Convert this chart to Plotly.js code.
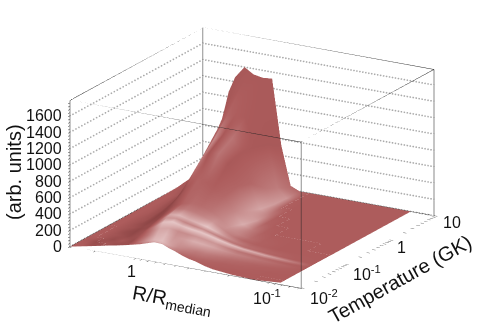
<!DOCTYPE html>
<html>
<head>
<meta charset="utf-8">
<script src="https://cdn.plot.ly/plotly-3.0.1.min.js"></script>
<style>html,body{margin:0;padding:0;background:#fff}#plot{width:477px;height:324px}</style>
</head>
<body>
<div id="plot"></div>
<script>
// x is R/Rmedian (runs backwards), y is temperature in GK
const rValues = [3.09,2.74,2.44,2.08,1.77,1.51,1.29,1.10,0.939,0.801,0.683,0.583,0.497,0.424,0.348,0.285,0.192,0.129,0.0866];
const tRows = [0.01,0.0141,0.02,0.0282,0.04,0.0473,0.0562,0.0668,0.0794,0.112,0.158,0.316,0.631,1.26,2.51,5.01,7.08,10];
// lowest temperature with any counts, per R column
const tEdge = [0.01,0.0115,0.0132,0.016,0.0193,0.023,0.028,0.035,0.033,0.028,0.0245,0.021,0.0185,0.0168,0.0141,0.0123,0.0107,0.01,0.0115];
const counts = [
 [0,0,0,0,0,4,10,25,30,25,20,15,8,6,3,2,0,0,0],
 [0,0,0,0,0,5,12,28,32,28,22,18,12,10,6,4,2,0,0],
 [0,0,0,0,3,10,18,35,40,35,30,28,22,18,12,8,4,1,0],
 [0,0,0,2,8,20,35,55,70,60,55,50,42,34,24,16,8,3,0],
 [0,0,1,5,18,40,70,100,125,115,105,98,85,70,50,34,16,6,0],
 [0,0,1,6,24,52,100,155,180,160,145,135,115,92,66,46,22,8,0],
 [0,0,2,8,30,65,130,210,235,205,185,170,145,115,82,58,28,10,0],
 [0,0,2,10,38,80,155,240,255,225,200,180,148,112,76,50,24,8,0],
 [0,0,3,12,45,95,175,260,270,240,215,190,150,110,70,44,20,6,0],
 [0,1,3,15,55,120,210,285,300,285,250,205,135,75,40,20,8,2,0],
 [0,1,4,20,70,155,260,300,330,320,280,210,120,50,18,6,1,0,0],
 [0,2,8,30,105,260,400,480,500,470,370,200,60,14,3,0,0,0,0],
 [1,5,15,60,200,430,640,760,760,650,400,120,15,2,0,0,0,0,0],
 [3,10,30,110,340,620,800,880,860,700,340,50,3,0,0,0,0,0,0],
 [8,25,70,220,520,830,1000,1050,1020,680,200,15,0,0,0,0,0,0,0],
 [30,70,160,420,800,1120,1260,1290,1220,620,110,5,0,0,0,0,0,0,0],
 [60,120,260,620,1120,1320,1350,1330,1290,560,70,3,0,0,0,0,0,0,0],
 [90,180,340,660,1260,1400,1330,1310,1320,520,50,0,0,0,0,0,0,0,0]
];
// light and dark patches of the surface, 0 dark to 1 pale
const shade = [
 [.35,.35,.3,.2,.3,.2,.4,.6,.65,.55,.42,.4,.38,.38,.36,.35,.35,.35,.35],
 [.35,.35,.25,.2,.3,.2,.4,.7,.75,.6,.45,.4,.38,.38,.36,.36,.35,.35,.35],
 [.35,.3,.2,.3,.2,.25,.5,.85,.9,.7,.55,.45,.42,.42,.4,.38,.37,.35,.35],
 [.35,.35,.3,.2,.3,.2,.55,.9,.95,.8,.65,.6,.55,.55,.5,.45,.4,.37,.35],
 [.35,.35,.3,.25,.18,.25,.5,.85,.9,.7,.75,.85,.85,.8,.7,.6,.5,.42,.35],
 [.35,.35,.3,.22,.16,.25,.5,.8,.8,.65,.65,.7,.7,.7,.6,.5,.45,.38,.35],
 [.35,.35,.3,.2,.15,.25,.55,.95,1,.95,1,1,1,1,.95,.9,.8,.6,.36],
 [.35,.35,.3,.22,.16,.2,.45,.7,.7,.6,.6,.65,.6,.55,.5,.45,.4,.36,.35],
 [.35,.35,.3,.25,.18,.2,.4,.8,.9,.85,.9,1,.9,.7,.55,.45,.4,.36,.35],
 [.35,.35,.3,.22,.14,.16,.3,.5,.55,.55,.6,.7,.65,.55,.42,.38,.35,.35,.35],
 [.35,.35,.3,.25,.12,.15,.25,.4,.45,.45,.5,.6,.7,.6,.45,.38,.35,.35,.35],
 [.35,.35,.32,.22,.1,.15,.3,.4,.38,.36,.42,.6,.85,.55,.38,.35,.35,.35,.35],
 [.35,.35,.3,.2,.15,.2,.55,.3,.5,.32,.4,.7,.75,.4,.35,.35,.35,.35,.35],
 [.35,.35,.3,.2,.2,.25,.65,.32,.5,.33,.42,.8,.55,.35,.35,.35,.35,.35,.35],
 [.35,.3,.25,.25,.3,.35,.4,.36,.34,.32,.5,.75,.38,.35,.35,.35,.35,.35,.35],
 [.3,.3,.3,.3,.3,.32,.34,.34,.33,.32,.55,.7,.36,.35,.35,.35,.35,.35,.35],
 [.3,.3,.3,.3,.3,.32,.33,.33,.33,.32,.5,.55,.36,.35,.35,.35,.35,.35,.35],
 [.3,.3,.3,.3,.3,.32,.33,.33,.33,.32,.45,.42,.36,.35,.35,.35,.35,.35,.35]
];
const zTicks = [0,200,400,600,800,1000,1200,1400,1600];
const zMinor = [0,40,80,120,160,200,240,280,320,360,400,440,480,520,560,600,640,680,720,760,800,840,880,920,960,1000,1040,1080,1120,1160,1200,1240,1280,1320,1360,1400,1440,1480,1520,1560,1600,1640,1680,1720,1760];
const rMinor = [3,2,1,0.9,0.8,0.7,0.6,0.5,0.4,0.3,0.2,0.1,0.09,0.08,0.07,0.06];
const tMinor = [0.01,0.02,0.03,0.04,0.05,0.06,0.07,0.08,0.09,0.1,0.2,0.3,0.4,0.5,0.6,0.7,0.8,0.9,1,2,3,4,5,6,7,8,9,10];
const rLabels = [[1,'1',-4,-13],[0.1,'10<sup>-1</sup>',-3,-14]];
const tLabels = [[0.01,'10<sup>-2</sup>',23,-9],[0.1,'10<sup>-1</sup>',22,-9],[1,'1',12,-8],[10,'10',18,-7]];
const rRange = [3.09,0.0582];
const tRange = [0.01,10];
const zTop = 1790;

function lg(v){
    return Math.log10(v);
}

// dotted guide lines on the two back walls, one marker per dot
let gridX = [], gridY = [], gridZ = [];
const wallDots = 45, backDots = 78;
for(let z of zTicks){
    for(let i = 0; i <= wallDots; i++){
        gridX.push(rRange[0]);
        gridY.push(tRange[0] * Math.pow(tRange[1] / tRange[0], i / wallDots));
        gridZ.push(z);
    }
    for(let i = 0; i <= backDots; i++){
        gridX.push(rRange[0] * Math.pow(rRange[1] / rRange[0], i / backDots));
        gridY.push(tRange[1]);
        gridZ.push(z);
    }
}

let boxX = [], boxY = [], boxZ = [];
function edge(a, b, c, d, e, f){
    boxX.push(a, b, null);
    boxY.push(c, d, null);
    boxZ.push(e, f, null);
}
for(let z of [0, zTop]){
    edge(rRange[0], rRange[1], tRange[0], tRange[0], z, z);
    edge(rRange[0], rRange[1], tRange[1], tRange[1], z, z);
    edge(rRange[0], rRange[0], tRange[0], tRange[1], z, z);
    edge(rRange[1], rRange[1], tRange[0], tRange[1], z, z);
}
edge(rRange[0], rRange[0], tRange[0], tRange[0], 0, zTop);
edge(rRange[1], rRange[1], tRange[0], tRange[0], 0, zTop);
edge(rRange[0], rRange[0], tRange[1], tRange[1], 0, zTop);

let surfaceY = tRows.map(t => tEdge.map(e => Math.max(t, e)));
let surfaceX = tRows.map(() => rValues);

let data = [
    {
        type: 'surface', x: surfaceX, y: surfaceY, z: counts, surfacecolor: shade,
        cmin: 0, cmax: 1,
        colorscale: [[0, '#7a3838'], [0.35, '#ad5c5c'], [1, '#e6c6c6']], showscale: false, hoverinfo: 'skip',
        lighting: {ambient: 1, diffuse: 0, specular: 0, roughness: 1, fresnel: 0}
    },
    {
        type: 'scatter3d', mode: 'markers', x: gridX, y: gridY, z: gridZ, hoverinfo: 'skip',
        marker: {color: '#ababab', size: 1, line: {width: 0}}, showlegend: false
    },
    {
        type: 'scatter3d', mode: 'lines', x: boxX, y: boxY, z: boxZ, hoverinfo: 'skip',
        line: {color: '#222', width: 1}, showlegend: false
    },
    {
        // the far right upright is drawn heavier in the original
        type: 'scatter3d', mode: 'lines', x: [rRange[1], rRange[1]], y: [tRange[1], tRange[1]], z: [0, zTop], hoverinfo: 'skip',
        line: {color: '#888', width: 2}, showlegend: false
    }
];

const fontName = 'Liberation Sans, Arial, sans-serif';
const tickFont = {family: fontName, size: 16, color: '#111'};
const hidden = {showgrid: false, zeroline: false, showline: false, showbackground: false, showticklabels: false, ticks: 'outside', ticklen: 4, tickcolor: '#333', showspikes: false, title: {text: ''}};

let sceneLabels = [];
for(let z of zTicks){
    sceneLabels.push({x: lg(rRange[0]), y: lg(tRange[0]), z: z, text: String(z), xanchor: 'right', xshift: -6, showarrow: false, font: tickFont});
}
for(let l of rLabels){
    sceneLabels.push({x: lg(l[0]), y: lg(tRange[0]), z: 0, text: l[1], xshift: l[2], yshift: l[3], showarrow: false, font: tickFont});
}
for(let l of tLabels){
    sceneLabels.push({x: lg(rRange[1]), y: lg(l[0]), z: 0, text: l[1], xshift: l[2], yshift: l[3], showarrow: false, font: tickFont});
}

const titleFont = {family: fontName, size: 20, color: '#111'};
function axisTitle(text, px, py, angle){
    return {text: text, xref: 'paper', yref: 'paper', x: px / 477, y: 1 - py / 324, xanchor: 'center', yanchor: 'middle', showarrow: false, textangle: angle, font: titleFont};
}

let layout = {
    width: 477, height: 324,
    margin: {l: 0, r: 0, t: 0, b: 0},
    paper_bgcolor: '#fff',
    showlegend: false,
    scene: {
        domain: {x: [0.0566, 1], y: [0.0247, 1]},
        aspectmode: 'manual',
        aspectratio: {x: 1.687, y: 1.687, z: 0.975},
        camera: {
            projection: {type: 'orthographic'},
            up: {x: 0, y: 0, z: 1},
            center: {x: 0, y: 0, z: 0},
            eye: {x: 1.893, y: -3.293, z: 1.258}
        },
        xaxis: Object.assign({}, hidden, {
            type: 'log', range: [lg(rRange[0]), lg(rRange[1])],
            tickvals: rMinor, ticktext: rMinor.map(() => '')
        }),
        yaxis: Object.assign({}, hidden, {
            type: 'log', range: [lg(tRange[0]), lg(tRange[1])],
            tickvals: tMinor, ticktext: tMinor.map(() => '')
        }),
        zaxis: Object.assign({}, hidden, {
            range: [0, zTop], tickvals: zMinor, ticktext: zMinor.map(() => '')
        }),
        annotations: sceneLabels
    },
    annotations: [
        axisTitle('(arb. units)', 14, 172, -90),
        axisTitle('R/R<sub>median</sub>', 172, 300, 10),
        axisTitle('Temperature (GK)', 400, 279, -29)
    ]
};

Plotly.newPlot('plot', data, layout, {displayModeBar: false});
</script>
</body>
</html>
